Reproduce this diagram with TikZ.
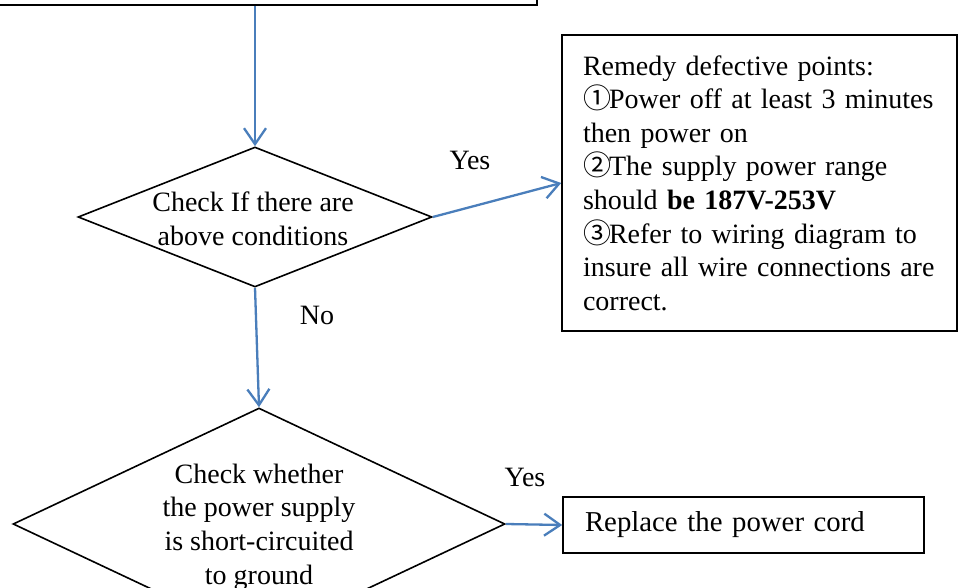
\documentclass[tikz,border=0pt]{standalone}
\usepackage{fontspec}
\setmainfont{Liberation Serif}
\newfontfamily\circfont{Noto Sans CJK SC}
\usetikzlibrary{arrows.meta,shapes.geometric}
\definecolor{flowblue}{RGB}{74,126,187}
\newcommand\circnum[1]{{\circfont #1}\hspace{-2bp}}
\newcommand\flowfont{\fontsize{28bp}{33.6bp}\selectfont}

\begin{document}
\begin{tikzpicture}[x=1bp,y=-1bp,
  box/.style={draw, line width=1.6bp, inner sep=0, font=\flowfont},
  decision/.style={diamond, draw, line width=1.6bp, inner sep=0},
  txt/.style={font=\flowfont, align=center, inner sep=0},
  flow/.style={draw=flowblue, line width=2.3bp, -{Straight Barb[length=16bp,width=22bp]}}]
\useasboundingbox (0,0) rectangle (962,588);
\clip (0,0) rectangle (962,588);

% previous step (box running off the top edge)
\node[box, minimum width=557bp, minimum height=105bp] (start) at (258.5,-47.5) {};

% first decision
\node[decision, minimum width=354bp, minimum height=140bp] (d1) at (255,217) {};
\node[txt] (d1text) at (253,219) {Check If there are\\above conditions};

% remedy list
\node[box, text width=353bp, inner xsep=21bp, minimum height=296bp, align=left] (remedy) at (759.5,183) {%
Remedy defective points:\\
\circnum{①}Power off at least 3 minutes\\
then power on\\
\circnum{②}The supply power range\\
should \textbf{be 187V-253V}\\
\circnum{③}Refer to wiring diagram to\\
insure all wire connections are\\
correct.};

% second decision
\node[decision, minimum width=492bp, minimum height=232bp] (d2) at (259,524) {};
\node[txt] (d2text) at (259,527) {Check whether\\the power supply\\is short-circuited\\to ground};

% replace cord
\node[box, text width=317bp, inner xsep=22bp, minimum height=56bp, align=left,
      font=\fontsize{28.8bp}{34bp}\selectfont] (cord) at (743.5,525) {Replace the power cord};

% connectors
\draw[flow] (start.south -| d1.north) -- (d1.north);
\draw[flow] (d1.east) -- (remedy.west);
\draw[flow] (d1.south) -- (d2.north);
\draw[flow] (d2.east) -- (cord.west);

% branch labels
\node[txt] (yes1) at (470,160) {Yes};
\node[txt] (no1) at (317,315) {No};
\node[txt] (yes2) at (525,477) {Yes};
\end{tikzpicture}
\end{document}
